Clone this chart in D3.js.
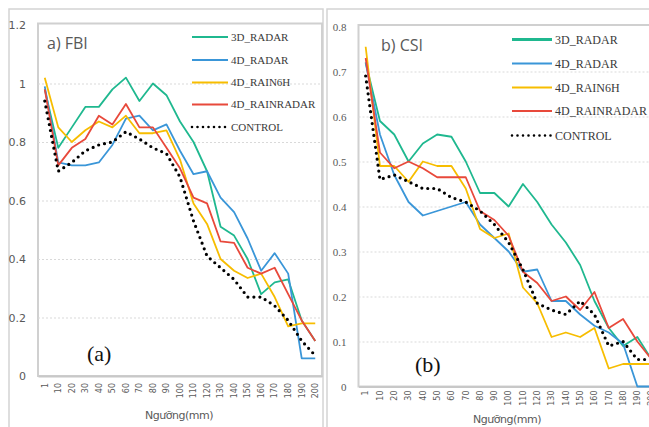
<!DOCTYPE html>
<html>
<head>
<meta charset="utf-8">
<script src="https://cdn.jsdelivr.net/npm/d3@7"></script>
<style>
  body { margin: 0; background: #fff; }
  svg { display: block; }
</style>
</head>
<body>
<svg id="chart" width="649" height="427"></svg>
<script>
var svg = d3.select("#chart");

// thresholds on the x axis (mm)
var thresholds = ["1", "10", "20", "30", "40", "50", "60", "70", "80", "90", "100",
  "110", "120", "130", "140", "150", "160", "170", "180", "190", "200"];

var seriesNames = ["3D_RADAR", "4D_RADAR", "4D_RAIN6H", "4D_RAINRADAR", "CONTROL"];
var seriesColors = ["#1fb88f", "#3a96d8", "#f7bd00", "#e8493b", "#000000"];

// a) FBI values
var fbi3dRadar = [0.98, 0.78, 0.85, 0.92, 0.92, 0.98, 1.02, 0.94, 1.0, 0.96, 0.87, 0.80, 0.70, 0.51, 0.48, 0.40, 0.28, 0.32, 0.33, 0.19, 0.12];
var fbi4dRadar = [0.99, 0.73, 0.72, 0.72, 0.73, 0.79, 0.88, 0.89, 0.84, 0.86, 0.77, 0.69, 0.70, 0.61, 0.56, 0.47, 0.36, 0.42, 0.35, 0.06, 0.06];
var fbi4dRain6h = [1.02, 0.85, 0.80, 0.84, 0.87, 0.85, 0.89, 0.83, 0.83, 0.84, 0.74, 0.59, 0.52, 0.40, 0.36, 0.335, 0.35, 0.27, 0.17, 0.18, 0.18];
var fbi4dRainRadar = [0.98, 0.72, 0.78, 0.81, 0.89, 0.86, 0.93, 0.85, 0.85, 0.78, 0.71, 0.61, 0.59, 0.46, 0.455, 0.37, 0.35, 0.37, 0.28, 0.19, 0.12];
var fbiControl = [0.94, 0.70, 0.73, 0.77, 0.79, 0.80, 0.835, 0.81, 0.78, 0.76, 0.68, 0.53, 0.41, 0.37, 0.33, 0.27, 0.27, 0.24, 0.19, 0.12, 0.07];

// b) CSI values
var csi3dRadar = [0.72, 0.59, 0.56, 0.50, 0.54, 0.56, 0.555, 0.50, 0.43, 0.43, 0.40, 0.45, 0.41, 0.36, 0.32, 0.27, 0.19, 0.13, 0.09, 0.11, 0.06];
var csi4dRadar = [0.72, 0.56, 0.47, 0.41, 0.38, 0.39, 0.40, 0.41, 0.36, 0.33, 0.30, 0.255, 0.26, 0.19, 0.19, 0.16, 0.135, 0.12, 0.095, 0, 0];
var csi4dRain6h = [0.755, 0.49, 0.49, 0.455, 0.50, 0.49, 0.49, 0.44, 0.35, 0.33, 0.34, 0.22, 0.185, 0.11, 0.12, 0.11, 0.13, 0.04, 0.05, 0.05, 0.05];
var csi4dRainRadar = [0.73, 0.52, 0.485, 0.50, 0.485, 0.465, 0.465, 0.465, 0.39, 0.37, 0.335, 0.255, 0.23, 0.19, 0.20, 0.17, 0.21, 0.13, 0.15, 0.10, 0.06];
var csiControl = [0.69, 0.46, 0.47, 0.455, 0.44, 0.44, 0.42, 0.41, 0.39, 0.36, 0.32, 0.26, 0.185, 0.17, 0.16, 0.19, 0.16, 0.09, 0.10, 0.06, 0.06];

var fbiTicks = [0, 0.2, 0.4, 0.6, 0.8, 1, 1.2];
var csiTicks = [0, 0.1, 0.2, 0.3, 0.4, 0.5, 0.6, 0.7, 0.8];

var grayText = "#595959";

svg.append("rect").attr("width", 649).attr("height", 427).attr("fill", "#fff");

// outer frames of the two panels
svg.append("rect").attr("x", 9).attr("y", 9).attr("width", 314).attr("height", 430)
  .attr("fill", "none").attr("stroke", "#d4d4d4").attr("stroke-width", 1.5);
svg.append("rect").attr("x", 327).attr("y", 9).attr("width", 340).attr("height", 430)
  .attr("fill", "none").attr("stroke", "#d4d4d4").attr("stroke-width", 1.5);

function drawPanel(opt) {
  var g = svg.append("g");

  var x = d3.scaleBand()
    .domain(thresholds)
    .range([opt.left, opt.right])
    .padding(0);

  var y = d3.scaleLinear()
    .domain([0, opt.max])
    .range([opt.bottom, opt.top]);

  // plot area frame
  g.append("rect")
    .attr("x", opt.left).attr("y", opt.top - 1.5)
    .attr("width", opt.right - opt.left).attr("height", opt.bottom - opt.top + 1.5)
    .attr("fill", "none").attr("stroke", "#d0d0d0").attr("stroke-width", 2);

  // gridlines
  g.append("g")
    .attr("transform", "translate(" + opt.left + ",0)")
    .call(d3.axisLeft(y).tickValues(opt.ticks.slice(1, -1)).tickSize(-(opt.right - opt.left)).tickFormat(""))
    .call(function (a) { a.select(".domain").remove(); })
    .selectAll("line")
    .attr("stroke", "#d9d9d9")
    .attr("stroke-dasharray", "2,2");

  // y axis labels
  var yAxis = g.append("g")
    .attr("transform", "translate(" + opt.left + ",0)")
    .call(d3.axisLeft(y).tickValues(opt.ticks).tickSize(0).tickPadding(12).tickFormat(d3.format("")));
  yAxis.select(".domain").remove();
  yAxis.selectAll("text")
    .attr("fill", grayText)
    .style("font-family", opt.yFont)
    .style("font-size", "11px");

  // x axis with rotated threshold labels
  var xAxis = g.append("g")
    .attr("transform", "translate(0," + opt.bottom + ")")
    .call(d3.axisBottom(x).tickSize(0));
  xAxis.select(".domain").attr("stroke", "#c8c8c8").attr("stroke-width", 2);
  xAxis.selectAll("text")
    .attr("transform", "rotate(-90)")
    .attr("text-anchor", "end")
    .attr("x", -opt.labelGap)
    .attr("y", 0)
    .attr("dy", "0.35em")
    .attr("fill", grayText)
    .style("font-family", "DejaVu Sans")
    .style("font-size", "8px");

  // series lines
  var line = d3.line()
    .x(function (d, i) { return x(thresholds[i]) + x.bandwidth() / 2; })
    .y(function (d) { return y(d); });

  opt.series.forEach(function (values, k) {
    var path = g.append("path")
      .datum(values)
      .attr("d", line)
      .attr("fill", "none")
      .attr("stroke", seriesColors[k])
      .attr("stroke-linejoin", "round");
    if (seriesNames[k] == "CONTROL") {
      path.attr("stroke-width", 3.2)
        .attr("stroke-linecap", "round")
        .attr("stroke-dasharray", "0,6");
    } else {
      path.attr("stroke-width", 1.8);
    }
  });

  // panel title
  g.append("text")
    .attr("x", opt.titleX).attr("y", opt.titleY)
    .attr("fill", grayText)
    .style("font-family", "Open Sans")
    .style("font-size", "16px")
    .text(opt.title);

  // big label (a) / (b)
  g.append("text")
    .attr("x", opt.tagX).attr("y", opt.tagY)
    .attr("fill", "#111")
    .style("font-family", "Liberation Serif")
    .style("font-size", "22px")
    .text(opt.tag);

  // axis title
  g.append("text")
    .attr("x", opt.axisTitleX).attr("y", opt.axisTitleY)
    .attr("text-anchor", "middle")
    .attr("fill", grayText)
    .style("font-family", "DejaVu Sans")
    .style("font-size", "11px")
    .style("letter-spacing", "-0.5px")
    .text("Ngưỡng(mm)");

  // legend
  seriesNames.forEach(function (name, k) {
    var ly = opt.legendY[k];
    var ll = g.append("line")
      .attr("x1", opt.legendX).attr("x2", opt.legendX + opt.legendLen)
      .attr("y1", ly).attr("y2", ly)
      .attr("stroke", seriesColors[k]);
    if (name == "CONTROL") {
      ll.attr("stroke-width", 2.6).attr("stroke-linecap", "round").attr("stroke-dasharray", "0,5.5");
    } else {
      ll.attr("stroke-width", (k == 0 && opt.thickFirst) ? 3 : 2);
    }
    g.append("text")
      .attr("x", opt.legendX + opt.legendLen + 3).attr("y", ly)
      .attr("dy", "0.35em")
      .attr("fill", "#3a3a3a")
      .style("font-family", "Liberation Serif")
      .style("font-size", opt.legendFont)
      .text(name);
  });
}

drawPanel({
  left: 38, right: 322, top: 25, bottom: 376, max: 1.2,
  ticks: fbiTicks, yFont: "DejaVu Sans", labelGap: 7,
  series: [fbi3dRadar, fbi4dRadar, fbi4dRain6h, fbi4dRainRadar, fbiControl],
  title: "a) FBI", titleX: 47, titleY: 49,
  tag: "(a)", tagX: 87, tagY: 361,
  axisTitleX: 179, axisTitleY: 419,
  legendX: 192, legendLen: 36, legendY: [37, 60, 82.5, 104.5, 127], legendFont: "11px",
  thickFirst: false
});

drawPanel({
  left: 358.5, right: 658.8, top: 26.5, bottom: 386.5, max: 0.8,
  ticks: csiTicks, yFont: "Liberation Serif", labelGap: 4,
  series: [csi3dRadar, csi4dRadar, csi4dRain6h, csi4dRainRadar, csiControl],
  title: "b) CSI", titleX: 381, titleY: 51,
  tag: "(b)", tagX: 415, tagY: 372,
  axisTitleX: 507, axisTitleY: 423,
  legendX: 512, legendLen: 40, legendY: [39.5, 63.5, 87.5, 111, 135.5], legendFont: "12px",
  thickFirst: true
});
</script>
</body>
</html>
